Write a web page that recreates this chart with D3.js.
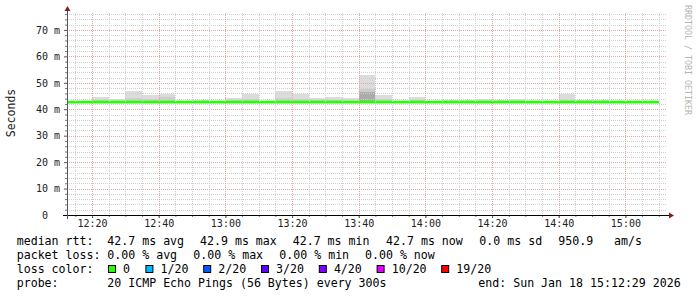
<!DOCTYPE html>
<html>
<head>
<meta charset="utf-8">
<script src="https://cdn.jsdelivr.net/npm/d3@7"></script>
<style>
  body { margin: 0; background: #fff; }
  text { font-family: "DejaVu Sans Mono", monospace; white-space: pre; }
</style>
</head>
<body>
<div id="chart"></div>
<script>
// 5 minute steps (start of each step)
var stepStarts = ["12:10", "12:15", "12:20", "12:25", "12:30", "12:35", "12:40", "12:45", "12:50", "12:55",
                  "13:00", "13:05", "13:10", "13:15", "13:20", "13:25", "13:30", "13:35", "13:40", "13:45",
                  "13:50", "13:55", "14:00", "14:05", "14:10", "14:15", "14:20", "14:25", "14:30", "14:35",
                  "14:40", "14:45", "14:50", "14:55", "15:00", "15:05"];
// milliseconds
var medianRtt = [42.7, 42.7, 42.7, 42.7, 42.7, 42.7, 42.7, 42.7, 42.7, 42.7,
                 42.7, 42.7, 42.7, 42.7, 42.7, 42.7, 42.7, 42.7, 42.7, 42.7,
                 42.7, 42.7, 42.7, 42.7, 42.7, 42.7, 42.7, 42.7, 42.7, 42.7,
                 42.7, 42.7, 42.7, 42.7, 42.7, 42.7];
var smokeLo = [42.5, 42.5, 42.5, 42.5, 42.4, 42.5, 42.5, 42.5, 42.5, 42.5,
               42.5, 42.5, 42.5, 42.4, 42.5, 42.5, 42.5, 42.5, 42.4, 42.5,
               42.5, 42.5, 42.5, 42.5, 42.5, 42.5, 42.5, 42.5, 42.5, 42.5,
               42.5, 42.5, 42.5, 42.5, 42.5, 42.5];
var smokeHi = [42.9, 43.0, 44.8, 43.7, 47.0, 45.2, 45.7, 43.2, 43.6, 43.0,
               44.4, 45.8, 43.0, 47.0, 45.7, 44.3, 44.5, 44.2, 52.8, 45.2,
               43.0, 44.6, 43.1, 43.6, 43.6, 43.9, 43.5, 43.8, 43.0, 43.0,
               45.8, 43.6, 43.6, 43.0, 43.0, 43.0];
var smokeMid = [42.7, 42.7, 43.6, 42.7, 44.4, 43.8, 44.8, 42.7, 42.7, 42.7,
                43.4, 44.0, 42.7, 44.4, 44.0, 43.4, 43.4, 43.3, 47.5, 44.0,
                42.7, 43.5, 42.7, 42.7, 42.7, 43.1, 42.7, 43.1, 42.7, 42.7,
                43.6, 42.7, 42.7, 42.7, 42.7, 42.7];
var smokeCore = [42.7, 42.7, 42.7, 42.7, 42.7, 42.7, 42.7, 42.7, 42.7, 42.7,
                 42.7, 42.7, 42.7, 42.7, 42.7, 42.7, 42.7, 42.7, 46.6, 42.7,
                 42.7, 42.7, 42.7, 42.7, 42.7, 42.7, 42.7, 42.7, 42.7, 42.7,
                 42.7, 42.7, 42.7, 42.7, 42.7, 42.7];

var yTickValues = [0, 10, 20, 30, 40, 50, 60, 70];
var xTickLabels = ["12:20", "12:40", "13:00", "13:20", "13:40", "14:00", "14:20", "14:40", "15:00"];

var rttStats = ["42.7 ms avg", "42.9 ms max", "42.7 ms min", "42.7 ms now", "0.0 ms sd", "950.9", "am/s"];
var lossStats = ["0.00 % avg", "0.00 % max", "0.00 % min", "0.00 % now"];
var lossLabels = ["0", "1/20", "2/20", "3/20", "4/20", "10/20", "19/20"];
var lossColors = ["#26ff00", "#00b8ff", "#0059ff", "#5e00ff", "#7e00ff", "#dd00ff", "#ff0000"];
var probeText = "20 ICMP Echo Pings (56 Bytes) every 300s";
var endText = "end: Sun Jan 18 15:12:29 2026";

var svgWidth = 697, svgHeight = 297;
var plotLeft = 67, plotRight = 667, plotTop = 13, plotBottom = 215;

var svg = d3.select("#chart").append("svg")
    .attr("width", svgWidth)
    .attr("height", svgHeight);

var parseHM = d3.timeParse("%H:%M");
var parseHMS = d3.timeParse("%H:%M:%S");

var x = d3.scaleTime()
    .domain([parseHMS("12:12:29"), parseHMS("15:12:29")])
    .range([plotLeft, plotRight]);
var y = d3.scaleLinear()
    .domain([0, 76.4])
    .range([plotBottom, plotTop]);

var steps = stepStarts.map(function(s, i) {
    var t0 = parseHM(s);
    return {t0: t0, t1: d3.timeMinute.offset(t0, 5), lo: smokeLo[i], hi: smokeHi[i],
            mid: smokeMid[i], core: smokeCore[i], med: medianRtt[i]};
});

svg.append("clipPath").attr("id", "plot")
    .append("rect").attr("x", plotLeft).attr("y", plotTop)
    .attr("width", plotRight - plotLeft).attr("height", plotBottom - plotTop);

var plot = svg.append("g").attr("clip-path", "url(#plot)");

// smoke
function band(key0, key1, color) {
    plot.append("g").selectAll("rect")
        .data(steps.filter(function(d) { return d[key1] > d[key0]; }))
        .enter().append("rect")
        .attr("x", function(d) { return x(d.t0); })
        .attr("width", function(d) { return x(d.t1) - x(d.t0); })
        .attr("y", function(d) { return y(d[key1]); })
        .attr("height", function(d) { return y(d[key0]) - y(d[key1]); })
        .attr("fill", color)
        .attr("shape-rendering", "crispEdges");
}
band("lo", "hi", "#dcdcdc");
band("lo", "mid", "#cdcdcd");
band("lo", "core", "#ababab");

// grid
var minorY = d3.range(0, 77, 2).filter(function(v) { return v % 10 !== 0; });
var majorY = yTickValues;
var minorX = d3.timeMinute.every(5).range(x.domain()[0], x.domain()[1]);
var majorX = xTickLabels.map(function(s) { return parseHM(s); });

var grid = svg.append("g").attr("fill", "none").attr("stroke-dasharray", "1,1")
    .attr("shape-rendering", "crispEdges");
grid.selectAll(".hmin").data(minorY).enter().append("line")
    .attr("x1", plotLeft).attr("x2", plotRight)
    .attr("y1", function(d) { return Math.round(y(d)) + 0.5; })
    .attr("y2", function(d) { return Math.round(y(d)) + 0.5; })
    .attr("stroke", "#cfcfcf");
grid.selectAll(".vmin").data(minorX).enter().append("line")
    .attr("y1", plotTop).attr("y2", plotBottom)
    .attr("x1", function(d) { return Math.round(x(d)) + 0.5; })
    .attr("x2", function(d) { return Math.round(x(d)) + 0.5; })
    .attr("stroke", "#cfcfcf");
grid.selectAll(".hmaj").data(majorY.slice(1)).enter().append("line")
    .attr("x1", plotLeft).attr("x2", plotRight)
    .attr("y1", function(d) { return Math.round(y(d)) + 0.5; })
    .attr("y2", function(d) { return Math.round(y(d)) + 0.5; })
    .attr("stroke", "#e6a4a4");
grid.selectAll(".vmaj").data(majorX).enter().append("line")
    .attr("y1", plotTop).attr("y2", plotBottom)
    .attr("x1", function(d) { return Math.round(x(d)) + 0.5; })
    .attr("x2", function(d) { return Math.round(x(d)) + 0.5; })
    .attr("stroke", "#e6a4a4");

// median line, coloured by loss
var medLine = d3.line()
    .curve(d3.curveStepAfter)
    .x(function(d) { return x(d.t); })
    .y(function(d) { return y(d.v); });
var medPts = [];
steps.forEach(function(d) { medPts.push({t: d.t0, v: d.med}); });
medPts.push({t: steps[steps.length - 1].t1, v: steps[steps.length - 1].med});
plot.append("path")
    .attr("d", medLine(medPts))
    .attr("fill", "none")
    .attr("stroke", lossColors[0])
    .attr("stroke-width", 2.6);

// axes
var yAxis = d3.axisLeft(y)
    .tickValues(yTickValues)
    .tickSize(3)
    .tickPadding(4)
    .tickFormat(function(d) { return d === 0 ? "0  " : d + " m"; });
var yg = svg.append("g").attr("transform", "translate(" + plotLeft + ",0)").call(yAxis);
yg.select(".domain").remove();
yg.selectAll("text").attr("font-size", "10px").attr("fill", "#222")
    .attr("font-family", "DejaVu Sans Mono");
yg.selectAll("line").attr("stroke", "#555");

var yMinorAxis = d3.axisLeft(y).tickValues(minorY).tickSize(2).tickFormat("");
var ymg = svg.append("g").attr("transform", "translate(" + plotLeft + ",0)").call(yMinorAxis);
ymg.select(".domain").remove();
ymg.selectAll("line").attr("stroke", "#777");

var xAxis = d3.axisBottom(x)
    .tickValues(majorX)
    .tickSize(3)
    .tickPadding(2)
    .tickFormat(d3.timeFormat("%H:%M"));
var xg = svg.append("g").attr("transform", "translate(0," + plotBottom + ")").call(xAxis);
xg.select(".domain").remove();
xg.selectAll("text").attr("font-size", "10px").attr("fill", "#222")
    .attr("font-family", "DejaVu Sans Mono");
xg.selectAll("line").attr("stroke", "#444");

var xMinorAxis = d3.axisBottom(x).tickValues(minorX).tickSize(2).tickFormat("");
var xmg = svg.append("g").attr("transform", "translate(0," + plotBottom + ")").call(xMinorAxis);
xmg.select(".domain").remove();
xmg.selectAll("line").attr("stroke", "#777");

svg.append("line").attr("x1", plotLeft - 4).attr("x2", plotRight + 3)
    .attr("y1", plotBottom + 0.5).attr("y2", plotBottom + 0.5)
    .attr("stroke", "#000").attr("shape-rendering", "crispEdges");
svg.append("line").attr("x1", plotLeft + 0.5).attr("x2", plotLeft + 0.5)
    .attr("y1", plotBottom + 4).attr("y2", plotTop - 3)
    .attr("stroke", "#555").attr("shape-rendering", "crispEdges");

// arrows
svg.append("path")
    .attr("d", "M" + (plotRight + 2) + "," + (plotBottom - 2.5) + "L" + (plotRight + 7) + "," + (plotBottom + 0.5) +
               "L" + (plotRight + 2) + "," + (plotBottom + 3.5) + "Z")
    .attr("fill", "#8b1a1a");
svg.append("path")
    .attr("d", "M" + (plotLeft - 2.5) + "," + (plotTop - 2) + "L" + (plotLeft + 0.5) + "," + (plotTop - 7) +
               "L" + (plotLeft + 3.5) + "," + (plotTop - 2) + "Z")
    .attr("fill", "#8b1a1a");

// unit label
svg.append("text")
    .attr("transform", "translate(15,113) rotate(-90)")
    .attr("text-anchor", "middle")
    .attr("font-family", "DejaVu Sans")
    .attr("font-size", "11.5px")
    .attr("fill", "#222")
    .text("Seconds");

// watermark
svg.append("text")
    .attr("transform", "translate(685,5) rotate(90)")
    .attr("font-size", "8.3px")
    .attr("fill", "#b4b4b4")
    .text("RRDTOOL / TOBI OETIKER");

// legend
var legend = svg.append("g").attr("font-size", "11.6px").attr("fill", "#000");
var rowY = [245, 259, 273, 287];
var rttX = [107.3, 200, 292.7, 386, 479.3, 558.3, 614];
var lossX = [107.3, 193.3, 279.3, 365];

legend.append("text").attr("x", 16.7).attr("y", rowY[0]).text("median rtt:");
rttStats.forEach(function(s, i) {
    legend.append("text").attr("x", rttX[i]).attr("y", rowY[0]).text(s);
});
legend.append("text").attr("x", 16.7).attr("y", rowY[1]).text("packet loss:");
lossStats.forEach(function(s, i) {
    legend.append("text").attr("x", lossX[i]).attr("y", rowY[1]).text(s);
});
legend.append("text").attr("x", 16.7).attr("y", rowY[2]).text("loss color:");
var bx = 108.5;
lossLabels.forEach(function(s, i) {
    legend.append("rect").attr("x", bx).attr("y", rowY[2] - 7.5).attr("width", 7).attr("height", 7)
        .attr("fill", lossColors[i]).attr("stroke", "#000").attr("stroke-width", 1);
    legend.append("text").attr("x", bx + 14.6).attr("y", rowY[2]).text(s);
    bx += 30.6 + s.length * 6.8;
});
legend.append("text").attr("x", 16.7).attr("y", rowY[3]).text("probe:");
legend.append("text").attr("x", 107.3).attr("y", rowY[3]).text(probeText);
legend.append("text").attr("x", 478.3).attr("y", rowY[3]).text(endText);
</script>
</body>
</html>
